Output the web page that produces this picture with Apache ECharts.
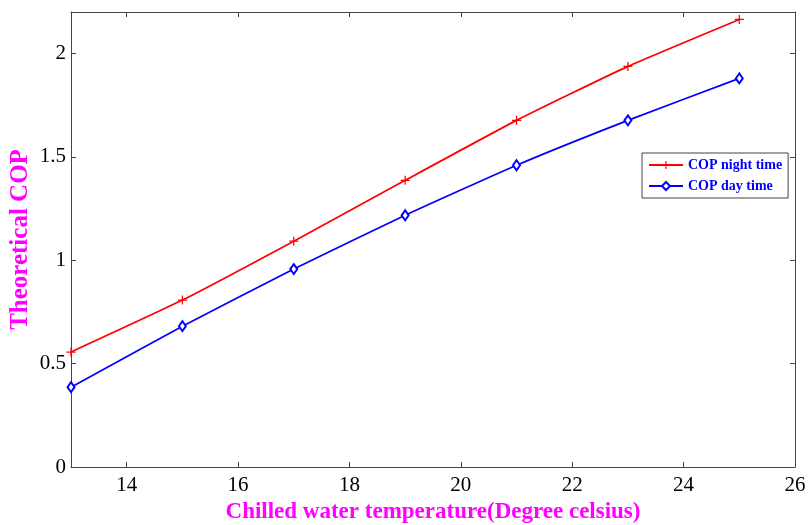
<!DOCTYPE html>
<html>
<head>
<meta charset="utf-8">
<script src="https://cdn.jsdelivr.net/npm/echarts@6/dist/echarts.min.js"></script>
<style>html,body{margin:0;padding:0;background:#fff;}#c{width:808px;height:525px;}</style>
</head>
<body>
<div id="c"></div>
<script>
var temps = [13, 15, 17, 19, 21, 23, 25];
var copNight = [0.556, 0.807, 1.092, 1.386, 1.676, 1.937, 2.164];
var copDay = [0.386, 0.681, 0.957, 1.217, 1.459, 1.676, 1.879];
var xTicks = [14, 16, 18, 20, 22, 24, 26];
var yTicks = [0, 0.5, 1, 1.5, 2];

var chart = echarts.init(document.getElementById('c'));
var serif = '"Liberation Serif", "Times New Roman", serif';
var axisLineStyle = {color: '#444', width: 1};
function pairs(xs, ys) { return xs.map(function (x, i) { return [x, ys[i]]; }); }
var plusPath = 'path://M0,4.3L10,4.3L10,5.7L0,5.7Z M4.3,0L5.7,0L5.7,10L4.3,10Z';

chart.setOption({
  backgroundColor: '#fff',
  animation: false,
  grid: {left: 71, right: 13, top: 12, bottom: 58, outerBoundsMode: 'none', containLabel: false},
  legend: {
    left: 642, top: 153,
    orient: 'vertical',
    borderColor: '#444', borderWidth: 1,
    padding: [5, 6, 5, 6],
    itemGap: 7,
    itemWidth: 34, itemHeight: 10,
    textStyle: {fontFamily: serif, fontWeight: 'bold', fontSize: 14, color: '#0000ff'},
    data: ['COP night time', 'COP day time']
  },
  xAxis: [{
    type: 'value', min: 13, max: 26,
    name: 'Chilled water temperature(Degree celsius)',
    nameLocation: 'middle', nameGap: 34, nameMoveOverlap: false,
    nameTextStyle: {fontFamily: serif, fontWeight: 'bold', fontSize: 23, color: '#ff00ff'},
    axisLine: {show: true, lineStyle: axisLineStyle},
    axisTick: {show: true, inside: true, length: 5, customValues: xTicks, lineStyle: axisLineStyle},
    axisLabel: {customValues: xTicks, fontFamily: serif, fontSize: 21, color: '#000', margin: 8},
    splitLine: {show: false}
  }, {
    type: 'value', min: 13, max: 26, position: 'top',
    axisLine: {show: true, onZero: false, lineStyle: axisLineStyle},
    axisTick: {show: true, inside: true, length: 5, customValues: xTicks, lineStyle: axisLineStyle},
    axisLabel: {show: false},
    splitLine: {show: false}
  }],
  yAxis: [{
    type: 'value', min: 0, max: 2.2,
    name: 'Theoretical COP',
    nameLocation: 'middle', nameGap: 38, nameMoveOverlap: false,
    nameTextStyle: {fontFamily: serif, fontWeight: 'bold', fontSize: 25, color: '#ff00ff'},
    axisLine: {show: true, lineStyle: axisLineStyle},
    axisTick: {show: true, inside: true, length: 5, customValues: yTicks, lineStyle: axisLineStyle},
    axisLabel: {customValues: yTicks, fontFamily: serif, fontSize: 21, color: '#000', margin: 5},
    splitLine: {show: false}
  }, {
    type: 'value', min: 0, max: 2.2, position: 'right',
    axisLine: {show: true, onZero: false, lineStyle: axisLineStyle},
    axisTick: {show: true, inside: true, length: 5, customValues: yTicks, lineStyle: axisLineStyle},
    axisLabel: {show: false},
    splitLine: {show: false}
  }],
  series: [{
    name: 'COP night time', type: 'line',
    data: pairs(temps, copNight),
    smooth: 0.15,
    symbol: plusPath, symbolSize: 9,
    lineStyle: {color: '#ff0000', width: 1.7},
    itemStyle: {color: '#ff0000'}
  }, {
    name: 'COP day time', type: 'line',
    data: pairs(temps, copDay),
    smooth: 0.15,
    symbol: 'emptyDiamond', symbolSize: [7, 10],
    lineStyle: {color: '#0000ff', width: 1.7},
    itemStyle: {color: '#0000ff', borderWidth: 1.5}
  }]
});
</script>
</body>
</html>
